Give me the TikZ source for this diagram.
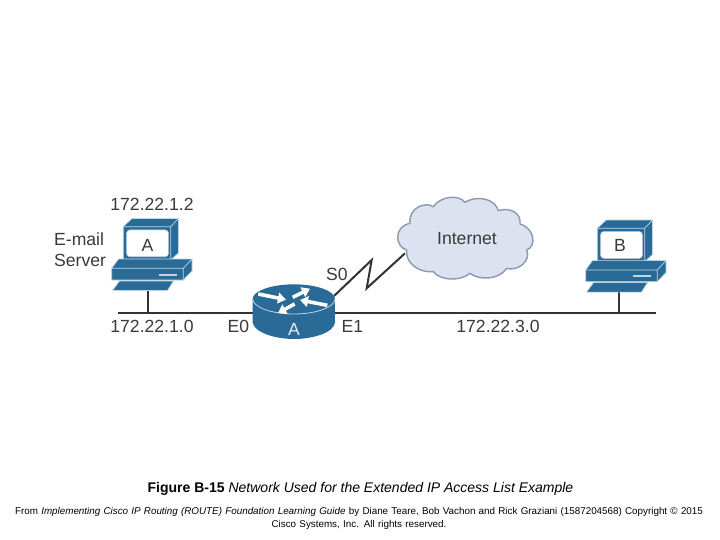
\documentclass[tikz,border=0pt]{standalone}
\usepackage{fontspec}
\setmainfont{Liberation Sans}
\usetikzlibrary{arrows.meta}
\definecolor{ciscoblue}{HTML}{2A6A97}
\definecolor{rimblue}{HTML}{BFD6E6}
\definecolor{cloudfill}{HTML}{DDE2F0}
\definecolor{cloudline}{HTML}{8A9AAE}
\definecolor{inktext}{HTML}{3A3A3A}
\tikzset{
  lbl/.style={inner sep=0pt,text=inktext,font=\fontsize{17.6}{21}\selectfont,anchor=center},
  captxt/.style={inner sep=0pt,text=black,anchor=center},
  wire/.style={draw=black!80,line width=2pt},
  pcpart/.style={fill=ciscoblue,draw=rimblue,line width=0.7pt,line join=round},
  rarrow/.style={draw=white,line width=3.6pt,-{Triangle[length=8pt,width=10.5pt]}},
  pics/pc/.style={code={
    \path[pcpart] (83.3,41.7)--(92,33.5)--(138.5,33.5)--(138.5,68)--(130.7,75)--(83.3,75)--cycle;
    \path[draw=rimblue,line width=0.7pt] (83.3,41.7)--(130.7,41.7)--(138.5,33.5) (130.7,41.7)--(130.7,75);
    \path[fill=white,draw=rimblue,line width=0.6pt,rounded corners=3pt] (86.7,45)--(128.3,45)--(128.3,71.7)--(86.7,71.7)--cycle;
    \path[pcpart] (71.7,83.3)--(78.5,74)--(152,74)--(152,86)--(143.3,95)--(71.7,95)--cycle;
    \path[draw=rimblue,line width=0.7pt] (71.7,83.3)--(143.3,83.3)--(152,74) (143.3,83.3)--(143.3,95);
    \path[fill=rimblue] (119,88.6)--(137,88.6)--(137,90.7)--(119,90.7)--cycle;
    \path[pcpart] (79.5,96)--(133.5,96)--(127.5,105.5)--(72.5,105.5)--cycle;
  }}
}
\begin{document}
\begin{tikzpicture}[x=1pt,y=-1pt]
\useasboundingbox (0,0) rectangle (720,540);
\fill[white] (0,0) rectangle (720,540);
% wiring coordinates
\coordinate (busL) at (118,313);
\coordinate (busR) at (656,313);
\coordinate (pcAfoot) at (147.7,291);
\coordinate (pcAdrop) at (147.7,313);
\coordinate (pcBfoot) at (619.3,292);
\coordinate (pcBdrop) at (619.3,313);
\coordinate (s0start) at (334,296);
\coordinate (s0up) at (371.7,260);
\coordinate (s0down) at (366.7,288.3);
\coordinate (s0end) at (405,253.3);
\draw[wire] (busL) -- (busR);
\draw[wire] (pcAfoot) -- (pcAdrop);
\draw[wire] (pcBfoot) -- (pcBdrop);
\draw[wire,line join=miter] (s0start) -- (s0up) -- (s0down) -- (s0end);
% computers
\pic at (40,185) {pc};
\pic at (514,186.6) {pc};
% router
\begin{scope}[shift={(220,190)},x=0.3333pt,y=-0.3333pt]
\path[fill=ciscoblue] (98,330) -- (98,398) .. controls (105,430) and (170,447) .. (222,447) .. controls (275,447) and (340,430) .. (345,398) -- (345,330) -- cycle;
\path[fill=ciscoblue] (222,283) .. controls (290,283) and (345,303) .. (345,327) .. controls (345,351) and (290,372) .. (222,372) .. controls (154,372) and (98,351) .. (98,327) .. controls (98,303) and (154,283) .. (222,283) -- cycle;
\draw[draw=rimblue,line width=0.8pt] (345,327) .. controls (345,351) and (290,372) .. (222,372) .. controls (154,372) and (98,351) .. (98,327);
\draw[rarrow] (115,312) -- (198,329);
\draw[rarrow] (218,322) -- (270,296);
\draw[rarrow] (224,342) -- (174,369);
\draw[rarrow] (322,346) -- (240,330);
% cloud
\path[fill=cloudfill,draw=cloudline,line width=1.4pt,line join=round]
  (560,180) .. controls (525,170) and (520,110) .. (570,100)
  .. controls (565,50) and (620,35) .. (640,50)
  .. controls (665,15) and (720,15) .. (735,37)
  .. controls (770,15) and (825,25) .. (835,62)
  .. controls (870,50) and (905,70) .. (900,102)
  .. controls (945,115) and (950,170) .. (920,180)
  .. controls (935,215) and (890,245) .. (860,235)
  .. controls (835,272) and (775,270) .. (750,250)
  .. controls (720,275) and (660,272) .. (640,245)
  .. controls (600,250) and (555,220) .. (560,180) -- cycle;
\end{scope}
% labels
\node[lbl] (tA) at (147.5,245.5) {A};
\node[lbl] (tB) at (620,245.5) {B};
\node[lbl,text=white!88!ciscoblue] (tR) at (294,329) {A};
\node[lbl] (ip1) at (152,204.5) {172.22.1.2};
\node[lbl,align=left,anchor=west] (mail) at (54,250) {E-mail\\Server};
\node[lbl] (ip2) at (152,326) {172.22.1.0};
\node[lbl] (e0) at (238.5,326) {E0};
\node[lbl] (e1) at (352.5,326) {E1};
\node[lbl] (s0) at (337,274) {S0};
\node[lbl] (ip3) at (498,326) {172.22.3.0};
\node[lbl] (inet) at (467,239) {Internet};
% caption
\node[captxt,font=\fontsize{14}{16}\selectfont] (fig) at (360.5,488.5) {\textbf{Figure B-15} \textit{Network Used for the Extended IP Access List Example}};
\node[captxt,font=\fontsize{9.83}{12.5}\selectfont,align=center,text width=720pt] (src) at (359,518.5) {From \textit{Implementing Cisco IP Routing (ROUTE) Foundation Learning Guide} by Diane Teare, Bob Vachon and Rick Graziani (1587204568) Copyright © 2015\\Cisco Systems, Inc. All rights reserved.};
\end{tikzpicture}
\end{document}
